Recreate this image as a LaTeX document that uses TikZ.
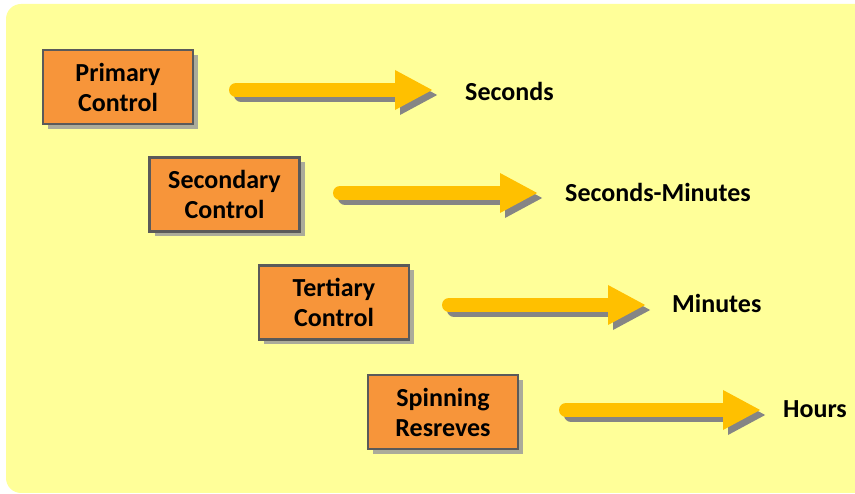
\documentclass[tikz,border=0pt]{standalone}
\usepackage{fontspec}
\setmainfont{Carlito}
\usetikzlibrary{arrows.meta,shadows}

\definecolor{panel}{HTML}{FFFF99}
\definecolor{boxfill}{HTML}{F7953A}
\definecolor{boxline}{HTML}{5A5A5A}
\definecolor{boxshade}{HTML}{ABAB9A}
\definecolor{arrowgold}{HTML}{FFC000}
\definecolor{arrowshade}{HTML}{858585}

\tikzset{
  stage/.style={draw=boxline, line width=2.2pt, fill=boxfill,
    minimum width=150pt, minimum height=74pt, inner sep=0pt,
    align=center, font=\fontsize{26}{30}\selectfont\bfseries,
    drop shadow={shadow xshift=5pt, shadow yshift=-5pt, fill=boxshade, opacity=1}},
  timelabel/.style={anchor=base west, inner sep=0pt,
    font=\fontsize{26}{30}\selectfont\bfseries},
  flow/.style={line width=14pt, line cap=round,
    -{Triangle[length=38pt, width=37pt]}},
  flowmain/.style={flow, draw=arrowgold, arrowgold},
  flowshade/.style={flow, draw=arrowshade, arrowshade},
}

\begin{document}
\begin{tikzpicture}[x=1pt, y=-1pt]
  \useasboundingbox (0,0) rectangle (855,494);

  % pale yellow panel behind everything
  \fill[panel, rounded corners=15pt] (6,4) rectangle (880,493);

  % control stages
  \node[stage] (primary)   at (118,87)    {Primary\\Control};
  \node[stage] (secondary) at (224.5,194.5) {Secondary\\Control};
  \node[stage] (tertiary)  at (334,302.5) {Tertiary\\Control};
  \node[stage] (spinning)  at (443,412)   {Spinning\\Resreves};

  % time scales
  \node[timelabel] (tsec)  at (465,101) {Seconds};
  \node[timelabel] (tsm)   at (565,202) {Seconds-Minutes};
  \node[timelabel] (tmin)  at (672,313) {Minutes};
  \node[timelabel] (thour) at (783,418) {Hours};

  % arrow end points
  \coordinate (a1s) at (236,90);  \coordinate (a1e) at (433,90);
  \coordinate (a2s) at (340,193); \coordinate (a2e) at (538,193);
  \coordinate (a3s) at (449,305); \coordinate (a3e) at (646,305);
  \coordinate (a4s) at (566,410); \coordinate (a4e) at (761,410);

  % arrow shadows
  \foreach \s/\e in {a1s/a1e, a2s/a2e, a3s/a3e, a4s/a4e}
    \draw[flowshade] ([shift={(5,5)}]\s) -- ([shift={(5,5)}]\e);

  % arrows
  \foreach \s/\e in {a1s/a1e, a2s/a2e, a3s/a3e, a4s/a4e}
    \draw[flowmain] (\s) -- (\e);
\end{tikzpicture}
\end{document}
